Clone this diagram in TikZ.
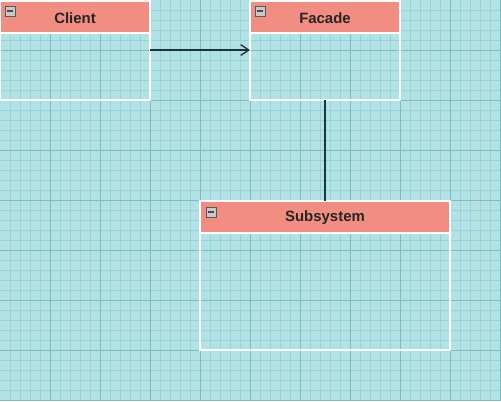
\documentclass[tikz,border=0pt]{standalone}
\usepackage{fontspec}
\setmainfont{Liberation Sans}
\usetikzlibrary{arrows.meta}
\definecolor{bg}{HTML}{B0E2E6}
\definecolor{minorc}{HTML}{9DD0D4}
\definecolor{majorc}{HTML}{82B9BD}
\definecolor{head}{HTML}{F28D82}
\definecolor{linec}{HTML}{1C3440}
\definecolor{iconc}{HTML}{C8C8C8}
\tikzset{
  classbody/.style={draw=white, line width=1pt},
  classhead/.style={draw=white, fill=head, line width=1pt},
  classtitle/.style={font=\bfseries\fontsize{11.2}{13}\selectfont, text=black!85},
  minusicon/.style={draw=gray!70!black, fill=iconc, line width=0.4pt, minimum size=7.5pt, inner sep=0pt},
  conn/.style={draw=linec, line width=1pt}
}
\begin{document}
\begin{tikzpicture}[x=0.75pt,y=-0.75pt]
\fill[bg] (0,0) rectangle (501,401);
\useasboundingbox (0,0) rectangle (501,401);
\foreach \i in {10,20,...,500} \draw[minorc, line width=0.4pt] (\i,0) -- (\i,401);
\foreach \j in {10,20,...,400} \draw[minorc, line width=0.4pt] (0,\j) -- (501,\j);
\foreach \i in {50,100,...,500} \draw[majorc, line width=0.6pt] (\i,0) -- (\i,401);
\foreach \j in {50,100,...,400} \draw[majorc, line width=0.6pt] (0,\j) -- (501,\j);

% Client
\draw[classbody] (0,1) rectangle (150,100);
\draw[classhead] (0,1) rectangle (150,33);
\node[classtitle] (client) at (75,18) {Client};
\node[minusicon] (clienticon) at (10,11) {};
\draw[black!70, line width=0.8pt] (7,11) -- (13,11);
\coordinate (clientR) at (150,50);

% Facade
\draw[classbody] (250,1) rectangle (400,100);
\draw[classhead] (250,1) rectangle (400,33);
\node[classtitle] (facade) at (325,18) {Facade};
\node[minusicon] (facadeicon) at (260,11) {};
\draw[black!70, line width=0.8pt] (257,11) -- (263,11);
\coordinate (facadeL) at (250,50);
\coordinate (facadeB) at (325,100);

% Subsystem
\draw[classbody] (200,201) rectangle (450,350);
\draw[classhead] (200,201) rectangle (450,233);
\node[classtitle] (subsystem) at (325,218) {Subsystem};
\node[minusicon] (subicon) at (211,212) {};
\draw[black!70, line width=0.8pt] (208,212) -- (214,212);
\coordinate (subT) at (325,201);

\draw[conn, -{Straight Barb[length=6pt,width=8pt,line width=1pt]}] (clientR) -- (facadeL);
\draw[conn] (facadeB) -- (subT);
\end{tikzpicture}
\end{document}
